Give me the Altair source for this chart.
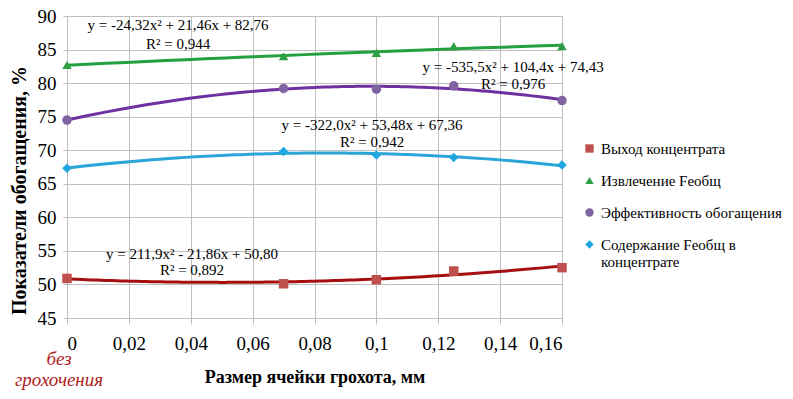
import altair as alt
import pandas as pd

series_names = ["Выход концентрата", "Извлечение Feобщ", "Эффективность обогащения", "Содержание Feобщ в концентрате"]
x_values = [0, 0.07, 0.1, 0.125, 0.16]
vyhod = [50.9, 50.1, 50.7, 52.0, 52.5]
izvlech = [82.7, 84.0, 84.5, 85.5, 85.5]
effekt = [74.5, 79.2, 79.1, 79.6, 77.4]
soderzh = [67.3, 69.8, 69.3, 68.9, 67.8]

marker_colors = ["#C0504D", "#2EA043", "#8064A2", "#1FA8E0"]
line_colors = ["#A50F0F", "#23A040", "#7030A0", "#2AA5D8"]
shapes = ["square", "triangle-up", "circle", "diamond"]

x_ticks = [0, 0.02, 0.04, 0.06, 0.08, 0.1, 0.12, 0.14, 0.16]
y_ticks = [45, 50, 55, 60, 65, 70, 75, 80, 85, 90]

eq_text = ["y = 211,9x² - 21,86x + 50,80", "R² = 0,892",
           "y = -24,32x² + 21,46x + 82,76", "R² = 0,944",
           "y = -535,5x² + 104,4x + 74,43", "R² = 0,976",
           "y = -322,0x² + 53,48x + 67,36", "R² = 0,942"]
eq_x = [0.0404, 0.0404, 0.0359, 0.0359, 0.1442, 0.1442, 0.0986, 0.0986]
eq_y = [54.6, 52.2, 88.7, 85.8, 82.4, 79.8, 73.8, 71.2]

rows = []
for name, vals in zip(series_names, [vyhod, izvlech, effekt, soderzh]):
    for xv, yv in zip(x_values, vals):
        rows.append({"series": name, "x": xv, "y": yv})
df = pd.DataFrame(rows)
ann = pd.DataFrame({"text": eq_text, "x": eq_x, "y": eq_y})

FONT = "Times New Roman, Liberation Serif, serif"
xscale = alt.Scale(domain=[0, 0.16], nice=False, zero=False)
yscale = alt.Scale(domain=[45, 90], nice=False, zero=False)

x_axis = alt.Axis(values=x_ticks, labelOverlap=False,
                  labelExpr="replace(format(datum.value, '.2~f'), '.', ',')",
                  title="Размер ячейки грохота, мм")
y_axis = alt.Axis(values=y_ticks, labelOverlap=False, tickCount=10,
                  title="Показатели обогащения, %",
                  titleX=-48, titleY=174, titleBaseline="middle", titleFontSize=20)

X = alt.X("x:Q", scale=xscale, axis=x_axis)
Y = alt.Y("y:Q", scale=yscale, axis=y_axis)

base = alt.Chart(df)

# trend-line stroke scale: same mapping, listed in reverse order so that its
# (disabled) legend is not merged with the marker legend
lines = base.transform_regression(
    "x", "y", method="poly", order=2, groupby=["series"], extent=[0, 0.16]
).mark_line(strokeWidth=3, clip=True).encode(
    x=X, y=Y,
    stroke=alt.Stroke("series:N",
                      scale=alt.Scale(domain=series_names[::-1], range=line_colors[::-1]),
                      legend=None),
)

legend = alt.Legend(title=None, orient="none", legendX=515, legendY=125,
                    labelFont=FONT, labelFontSize=15, labelColor="#000000",
                    symbolSize=70, rowPadding=16, labelOffset=4, labelLimit=300,
                    symbolStrokeWidth=0,
                    labelExpr="datum.label == 'Содержание Feобщ в концентрате' ? ['Содержание Feобщ в', 'концентрате'] : datum.label")

points = base.mark_point(filled=True, opacity=1, size=90).encode(
    x=X, y=Y,
    color=alt.Color("series:N", scale=alt.Scale(domain=series_names, range=marker_colors), legend=legend),
    shape=alt.Shape("series:N", scale=alt.Scale(domain=series_names, range=shapes), legend=legend),
)

texts = alt.Chart(ann).mark_text(font=FONT, fontSize=15, color="#000000", align="center", baseline="middle").encode(
    x=X, y=Y,
    text="text:N",
)

note = alt.Chart(pd.DataFrame({"x": [0], "t": ["без\nгрохочения"]})).mark_text(
    font=FONT, fontSize=19, fontStyle="italic", color="#B01E1E", align="center",
    baseline="middle", lineBreak="\n", lineHeight=21, dx=-8
).encode(
    x=X,
    y=alt.value(343),
    text="t:N",
)

chart = alt.layer(lines, points, texts, note).properties(
    width=495, height=302,
    background="#FFFFFF",
    autosize=alt.AutoSizeParams(type="none"),
    padding={"left": 59, "top": 8, "right": 223, "bottom": 73},
).configure_axis(
    labelFont=FONT, labelFontSize=19, labelColor="#000000", labelOverlap=False,
    titleFont=FONT, titleFontSize=18, titleFontWeight="bold", titleColor="#000000",
    gridColor="#BFBFBF", gridWidth=1, domainColor="#BFBFBF", tickColor="#BFBFBF",
    tickSize=6,
).configure_axisX(labelPadding=10, titlePadding=15).configure_axisY(
    labelPadding=7, tickSize=4
).configure_view(stroke="#BFBFBF")

chart.save("out.html", embed_options={"renderer": "svg", "actions": False})
